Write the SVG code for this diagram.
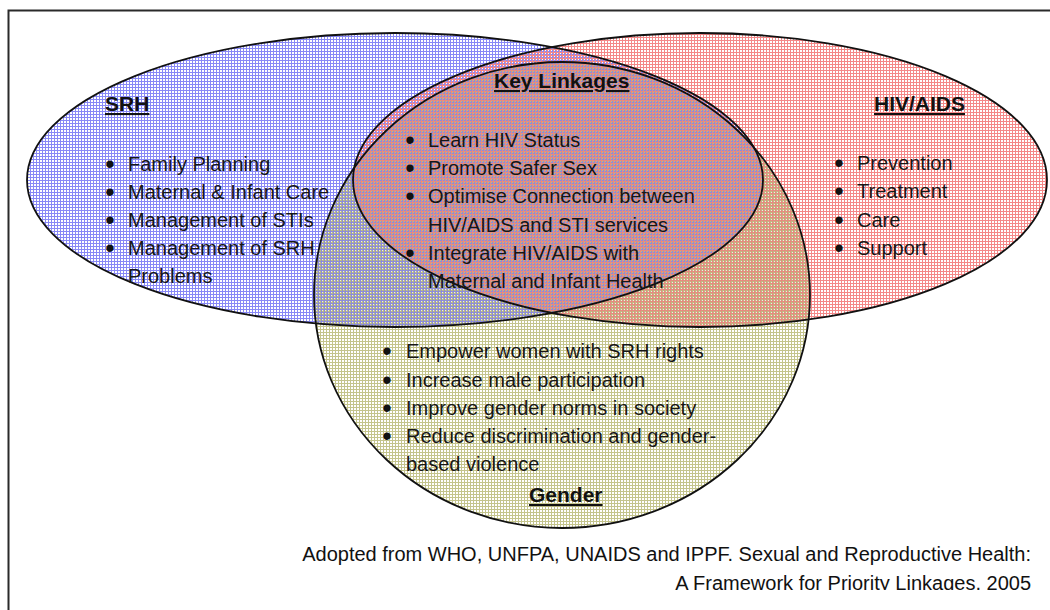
<svg xmlns="http://www.w3.org/2000/svg" width="1050" height="610" viewBox="0 0 1050 610">
  <style>
    .edge { fill: none; stroke: #111; stroke-width: 1.8; }
    .t { font-family: "Liberation Sans", Arial, sans-serif; font-size: 20px; fill: #161616; }
    .h { font-family: "Liberation Sans", Arial, sans-serif; font-size: 21px; font-weight: bold; fill: #111; text-decoration: underline; }
    .b { font-family: "Liberation Sans", Arial, sans-serif; font-size: 27px; fill: #111; text-anchor: middle; }
    .src { font-family: "Liberation Sans", Arial, sans-serif; font-size: 20px; fill: #111; text-anchor: end; }
  </style>
  <defs>
    <!-- small-grid fills; each grid sits on its own row/column phase so overlaps interleave -->
    <pattern id="gridOlive" width="3" height="3" patternUnits="userSpaceOnUse">
      <rect x="0" y="2" width="3" height="1" fill="#c4c48c"/>
      <rect x="2" y="0" width="1" height="3" fill="#c4c48c"/>
    </pattern>
    <pattern id="gridBlue" width="3" height="3" patternUnits="userSpaceOnUse">
      <rect x="0" y="0" width="3" height="1" fill="#8888f6"/>
      <rect x="0" y="0" width="1" height="3" fill="#8888f6"/>
    </pattern>
    <pattern id="gridRed" width="3" height="3" patternUnits="userSpaceOnUse">
      <rect x="0" y="1" width="3" height="1" fill="#f48888"/>
      <rect x="1" y="0" width="1" height="3" fill="#f48888"/>
    </pattern>
    <!-- union of the SRH and HIV/AIDS sets -->
    <clipPath id="upperSets">
      <ellipse cx="395" cy="180" rx="368" ry="147"/>
      <ellipse cx="700" cy="180" rx="347" ry="147"/>
    </clipPath>
    <clipPath id="pageClip">
      <rect x="0" y="0" width="1050" height="590"/>
    </clipPath>
  </defs>

  <rect width="1050" height="610" fill="#fff"/>
  <!-- page frame -->
  <rect x="8.5" y="10.5" width="1100" height="700" fill="none" stroke="#2a2a2a" stroke-width="2"/>

  <!-- set fills -->
  <g id="fills">
    <ellipse cx="562" cy="295" rx="248" ry="233" fill="url(#gridOlive)"/>
    <ellipse cx="395" cy="180" rx="368" ry="147" fill="url(#gridBlue)"/>
    <ellipse cx="700" cy="180" rx="347" ry="147" fill="url(#gridRed)"/>
    <!-- olive wash over the gender overlaps only -->
    <ellipse cx="562" cy="295" rx="248" ry="233" fill="#a0a058" fill-opacity="0.18" clip-path="url(#upperSets)"/>
  </g>

  <!-- set outlines -->
  <g id="outlines">
    <ellipse class="edge" cx="395" cy="180" rx="368" ry="147"/>
    <ellipse class="edge" cx="700" cy="180" rx="347" ry="147"/>
    <ellipse class="edge" cx="562" cy="295" rx="248" ry="233"/>
  </g>

  <g id="srh">
    <text class="h" x="105" y="111">SRH</text>
    <text class="b" x="110" y="173">•</text><text class="t" x="128" y="171">Family Planning</text>
    <text class="b" x="110" y="201">•</text><text class="t" x="128" y="199">Maternal &amp; Infant Care</text>
    <text class="b" x="110" y="229">•</text><text class="t" x="128" y="227">Management of STIs</text>
    <text class="b" x="110" y="257">•</text><text class="t" x="128" y="255">Management of SRH</text>
    <text class="t" x="128" y="283">Problems</text>
  </g>

  <g id="hiv-aids">
    <text class="h" x="874" y="111">HIV/AIDS</text>
    <text class="b" x="839" y="172">•</text><text class="t" x="857" y="170">Prevention</text>
    <text class="b" x="839" y="200">•</text><text class="t" x="857" y="198">Treatment</text>
    <text class="b" x="839" y="229">•</text><text class="t" x="857" y="227">Care</text>
    <text class="b" x="839" y="257">•</text><text class="t" x="857" y="255">Support</text>
  </g>

  <g id="key-linkages">
    <text class="h" x="494" y="88">Key Linkages</text>
    <text class="b" x="410" y="149">•</text><text class="t" x="428" y="147">Learn HIV Status</text>
    <text class="b" x="410" y="177">•</text><text class="t" x="428" y="175">Promote Safer Sex</text>
    <text class="b" x="410" y="205">•</text><text class="t" x="428" y="203">Optimise Connection between</text>
    <text class="t" x="428" y="232">HIV/AIDS and STI services</text>
    <text class="b" x="410" y="262">•</text><text class="t" x="428" y="260">Integrate HIV/AIDS with</text>
    <text class="t" x="428" y="288">Maternal and Infant Health</text>
  </g>

  <g id="gender">
    <text class="b" x="387" y="360">•</text><text class="t" x="406" y="358">Empower women with SRH rights</text>
    <text class="b" x="387" y="389">•</text><text class="t" x="406" y="387">Increase male participation</text>
    <text class="b" x="387" y="417">•</text><text class="t" x="406" y="415">Improve gender norms in society</text>
    <text class="b" x="387" y="445">•</text><text class="t" x="406" y="443">Reduce discrimination and gender-</text>
    <text class="t" x="406" y="471">based violence</text>
    <text class="h" x="529" y="502">Gender</text>
  </g>

  <g id="source" clip-path="url(#pageClip)">
    <text class="src" x="1031" y="561">Adopted from WHO, UNFPA, UNAIDS and IPPF. Sexual and Reproductive Health:</text>
    <text class="src" x="1031" y="590">A Framework for Priority Linkages, 2005</text>
  </g>
</svg>
